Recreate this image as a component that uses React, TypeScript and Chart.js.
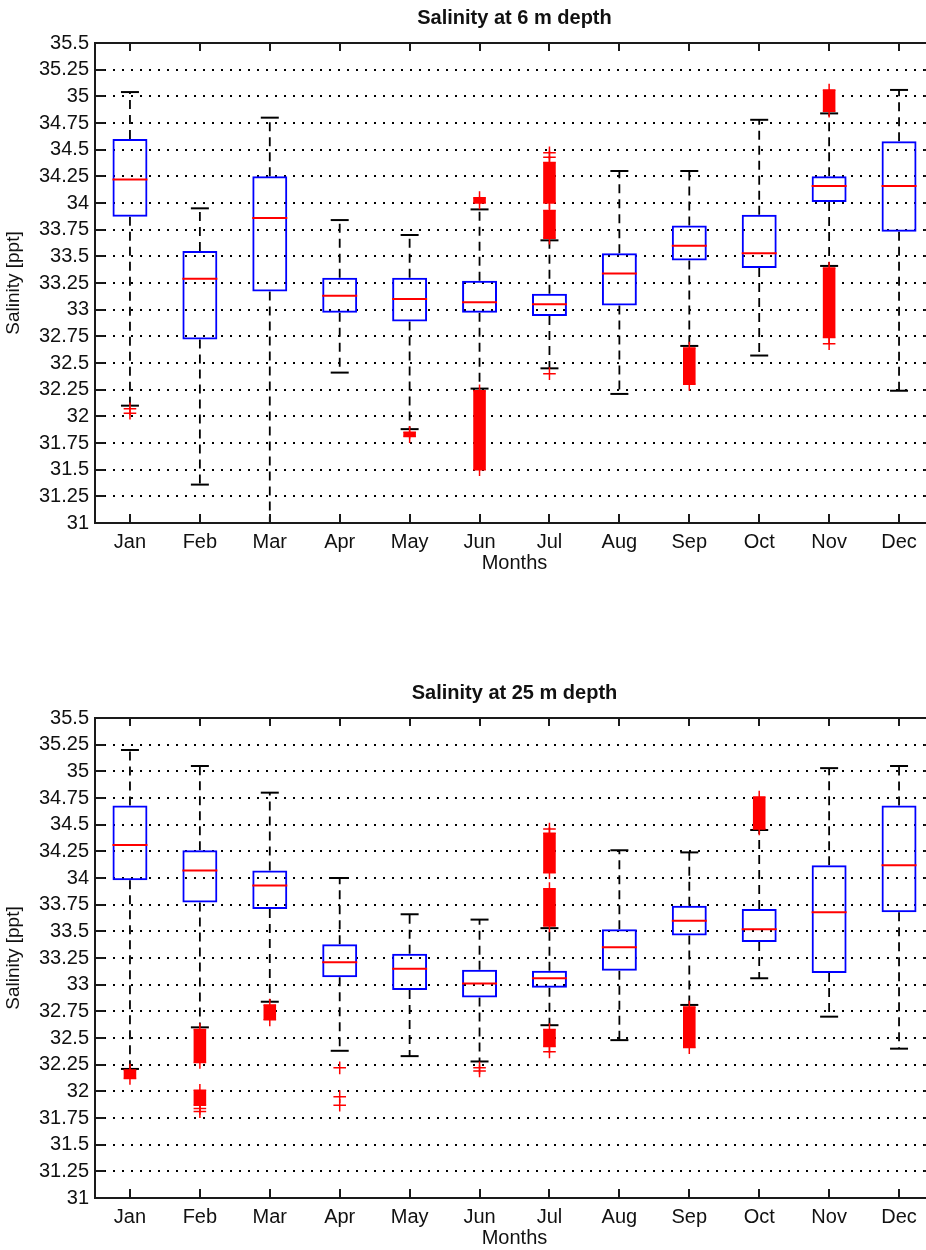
import React, { useEffect, useRef } from 'react';
import { Chart, registerables } from 'chart.js';

Chart.register(...registerables);

const months = ['Jan', 'Feb', 'Mar', 'Apr', 'May', 'Jun', 'Jul', 'Aug', 'Sep', 'Oct', 'Nov', 'Dec'];

const yTicks = [31, 31.25, 31.5, 31.75, 32, 32.25, 32.5, 32.75, 33, 33.25, 33.5, 33.75, 34, 34.25, 34.5, 34.75, 35, 35.25, 35.5];
const yTickLabels = ['31', '31.25', '31.5', '31.75', '32', '32.25', '32.5', '32.75', '33', '33.25', '33.5', '33.75', '34', '34.25', '34.5', '34.75', '35', '35.25', '35.5'];

// ---- Salinity at 6 m depth ----
const q3_6 = [34.6, 33.55, 34.25, 33.3, 33.3, 33.27, 33.15, 33.53, 33.79, 33.89, 34.25, 34.58];
const median6 = [34.22, 33.29, 33.86, 33.13, 33.1, 33.07, 33.05, 33.34, 33.6, 33.53, 34.16, 34.16];
const q1_6 = [33.87, 32.72, 33.17, 32.97, 32.89, 32.97, 32.94, 33.04, 33.46, 33.39, 34.01, 33.73];
const whiskerHigh6 = [35.04, 33.95, 34.8, 33.84, 33.7, 33.94, 33.65, 34.3, 34.3, 34.78, 34.84, 35.06];
const whiskerLow6 = [32.1, 31.36, 30.9, 32.41, 31.88, 32.26, 32.45, 32.21, 32.66, 32.57, 33.41, 32.24];
const outlierRuns6: [string, number, number][] = [
  ['May', 31.81, 31.85],
  ['Jun', 34.0, 34.05],
  ['Jun', 31.5, 32.24],
  ['Jul', 33.67, 33.93],
  ['Jul', 34.0, 34.38],
  ['Sep', 32.3, 32.64],
  ['Nov', 34.86, 35.06],
  ['Nov', 32.74, 33.39],
];
const outliers6: [string, number][] = [
  ['Jan', 32.07], ['Jan', 32.03], ['Jul', 32.4], ['Jul', 34.43], ['Jul', 34.47], ['Nov', 32.68],
];

// ---- Salinity at 25 m depth ----
const q3_25 = [34.68, 34.26, 34.07, 33.38, 33.29, 33.14, 33.13, 33.52, 33.74, 33.71, 34.12, 34.68];
const median25 = [34.31, 34.07, 33.93, 33.21, 33.15, 33.01, 33.06, 33.35, 33.6, 33.52, 33.68, 34.12];
const q1_25 = [33.98, 33.77, 33.71, 33.07, 32.95, 32.88, 32.97, 33.13, 33.46, 33.4, 33.11, 33.68];
const whiskerHigh25 = [35.2, 35.05, 34.8, 34.0, 33.66, 33.61, 33.53, 34.26, 34.24, 34.45, 35.03, 35.05];
const whiskerLow25 = [32.21, 32.6, 32.84, 32.38, 32.33, 32.28, 32.62, 32.48, 32.81, 33.06, 32.7, 32.4];
const outlierRuns25: [string, number, number][] = [
  ['Jan', 32.12, 32.2],
  ['Feb', 32.27, 32.58],
  ['Feb', 31.87, 32.01],
  ['Mar', 32.67, 32.81],
  ['Jul', 33.55, 33.9],
  ['Jul', 34.05, 34.42],
  ['Jul', 32.42, 32.58],
  ['Sep', 32.41, 32.79],
  ['Oct', 34.46, 34.76],
];
const outliers25: [string, number][] = [
  ['Feb', 31.84], ['Feb', 31.81], ['Apr', 32.22], ['Apr', 31.95], ['Apr', 31.87],
  ['Jun', 32.22], ['Jun', 32.19], ['Jul', 34.46], ['Jul', 32.37],
];

const FONT = '"Liberation Sans", Arial, Helvetica, sans-serif';
const CANVAS_W = 944;
const CANVAS_H = 580;

const framePlugin = {
  id: 'matlabFrame',
  afterDatasetsDraw(chart: any) {
    const { ctx, chartArea } = chart;
    const { left, top, right, bottom } = chartArea;
    const x = chart.scales.x;
    const y = chart.scales.y;
    ctx.save();
    ctx.strokeStyle = '#1a1a1a';
    ctx.lineWidth = 2;
    ctx.setLineDash([]);
    ctx.beginPath();
    y.ticks.forEach((t: any) => {
      const py = Math.round(y.getPixelForValue(t.value));
      ctx.moveTo(left, py);
      ctx.lineTo(left + 10, py);
      ctx.moveTo(right, py);
      ctx.lineTo(right - 10, py);
    });
    x.ticks.forEach((_t: any, i: number) => {
      const px = Math.round(x.getPixelForTick(i));
      ctx.moveTo(px, top);
      ctx.lineTo(px, top + 8);
      ctx.moveTo(px, bottom);
      ctx.lineTo(px, bottom - 9);
    });
    ctx.stroke();
    ctx.strokeRect(left, top, right - left, bottom - top);
    ctx.restore();
  },
};

function buildConfig(
  title: string,
  q1: number[],
  med: number[],
  q3: number[],
  wLo: number[],
  wHi: number[],
  runs: [string, number, number][],
  pts: [string, number][]
) {
  const whiskerData = months.flatMap((m, i) => [
    { x: m, y: q3[i] }, { x: m, y: wHi[i] }, { x: m, y: null },
    { x: m, y: q1[i] }, { x: m, y: wLo[i] }, { x: m, y: null },
  ]);
  const capData = months.flatMap((m, i) => [{ x: m, y: wHi[i] }, { x: m, y: wLo[i] }]);
  const crossData = [
    ...pts.map((p) => ({ x: p[0], y: p[1] })),
    ...runs.flatMap((r) => [{ x: r[0], y: r[1] }, { x: r[0], y: r[2] }]),
  ];
  return {
    type: 'bar',
    data: {
      labels: months,
      datasets: [
        {
          type: 'line',
          label: 'outliers',
          data: crossData,
          showLine: false,
          pointStyle: 'cross',
          pointRadius: 6.3,
          pointHoverRadius: 6.3,
          pointBorderColor: '#ff0000',
          pointBorderWidth: 1.5,
          order: 0,
        },
        {
          type: 'bar',
          label: 'outlier runs',
          data: runs.map((r) => ({ x: r[0], y: [r[1], r[2]] })),
          backgroundColor: '#ff0000',
          borderWidth: 0,
          grouped: false,
          barPercentage: 0.18,
          categoryPercentage: 1,
          order: 1,
        },
        {
          type: 'line',
          label: 'median',
          data: med,
          showLine: false,
          pointStyle: 'line',
          pointRadius: 17.5,
          pointHoverRadius: 17.5,
          pointBorderColor: '#ff0000',
          pointBorderWidth: 2,
          order: 2,
        },
        {
          type: 'bar',
          label: 'box',
          data: months.map((_m, i) => [q1[i], q3[i]]),
          backgroundColor: 'rgba(0,0,0,0)',
          borderColor: '#0000ff',
          borderWidth: 2,
          borderSkipped: false,
          grouped: false,
          barPercentage: 0.5,
          categoryPercentage: 1,
          order: 3,
        },
        {
          type: 'line',
          label: 'caps',
          data: capData,
          showLine: false,
          pointStyle: 'line',
          pointRadius: 9,
          pointHoverRadius: 9,
          pointBorderColor: '#000000',
          pointBorderWidth: 2,
          order: 4,
        },
        {
          type: 'line',
          label: 'whiskers',
          data: whiskerData,
          borderColor: '#000000',
          borderWidth: 1.8,
          borderDash: [9, 6],
          pointRadius: 0,
          spanGaps: false,
          order: 5,
        },
      ],
    },
    options: {
      responsive: false,
      animation: false,
      events: [],
      layout: { autoPadding: false, padding: { left: 0, right: 10, top: 0, bottom: 0 } },
      plugins: {
        legend: { display: false },
        tooltip: { enabled: false },
        title: {
          display: true,
          fullSize: false,
          text: title,
          color: '#111',
          font: { family: FONT, size: 20, weight: 'bold' },
          padding: { top: 6, bottom: 13 },
        },
      },
      scales: {
        x: {
          type: 'category',
          offset: true,
          grid: { display: false, drawTicks: false },
          border: { display: false },
          ticks: {
            color: '#111',
            font: { family: FONT, size: 20 },
            padding: 7,
            maxRotation: 0,
            autoSkip: false,
          },
          title: {
            display: true,
            text: 'Months',
            color: '#111',
            font: { family: FONT, size: 20 },
            padding: { top: 0, bottom: 5 },
          },
          afterFit: (scale: any) => {
            scale.height = 57;
            scale.paddingLeft = 0;
            scale.paddingRight = 0;
          },
        },
        y: {
          type: 'linear',
          min: 31,
          max: 35.5,
          afterBuildTicks: (scale: any) => { scale.ticks = yTicks.map((v) => ({ value: v })); },
          grid: { color: '#000', lineWidth: 2, drawTicks: false },
          border: { display: false, dash: [2, 7] },
          ticks: {
            color: '#111',
            font: { family: FONT, size: 20 },
            padding: 6,
            autoSkip: false,
            callback: (_v: any, i: number) => yTickLabels[i],
          },
          title: {
            display: true,
            text: 'Salinity [ppt]',
            color: '#111',
            font: { family: FONT, size: 19 },
            padding: { top: 2, bottom: 0 },
          },
          afterFit: (scale: any) => {
            scale.width = 95;
          },
        },
      },
    },
    plugins: [framePlugin],
  };
}

function BoxChart(props: {
  title: string; q1: number[]; med: number[]; q3: number[]; wLo: number[]; wHi: number[];
  runs: [string, number, number][]; pts: [string, number][]; top: number;
}) {
  const ref = useRef<HTMLCanvasElement | null>(null);
  useEffect(() => {
    if (!ref.current) return;
    const cfg: any = buildConfig(props.title, props.q1, props.med, props.q3, props.wLo, props.wHi, props.runs, props.pts);
    const chart = new Chart(ref.current, cfg);
    return () => chart.destroy();
  }, []);
  return (
    <canvas
      ref={ref}
      width={CANVAS_W}
      height={CANVAS_H}
      style={{ position: 'absolute', left: 0, top: props.top, width: CANVAS_W, height: CANVAS_H, display: 'block' }}
    />
  );
}

export default function App() {
  return (
    <div style={{ position: 'absolute', left: 0, top: 0, width: 926, height: 1250, overflow: 'hidden', background: '#fff' }}>
      <BoxChart title="Salinity at 6 m depth" q1={q1_6} med={median6} q3={q3_6} wLo={whiskerLow6} wHi={whiskerHigh6} runs={outlierRuns6} pts={outliers6} top={0} />
      <BoxChart title="Salinity at 25 m depth" q1={q1_25} med={median25} q3={q3_25} wLo={whiskerLow25} wHi={whiskerHigh25} runs={outlierRuns25} pts={outliers25} top={675} />
    </div>
  );
}
